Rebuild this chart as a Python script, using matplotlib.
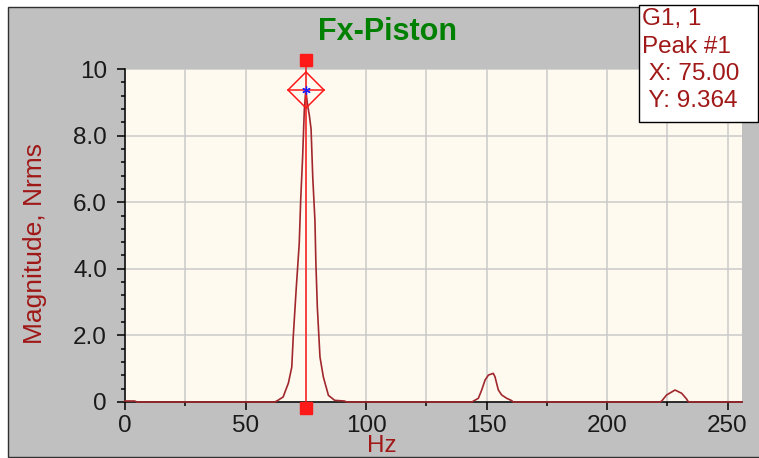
import matplotlib
matplotlib.use("Agg")
import matplotlib.pyplot as plt
from matplotlib.patches import Rectangle

# ---- data ----
freq_hz = [0, 4, 5, 62, 63, 65.6, 67.8, 69.2, 69.8, 71.0, 72.3, 72.9, 73.7, 74.4,
           75.0, 75.8, 76.5, 77.2, 77.9, 78.8, 79.2, 79.8, 80.9, 82.3, 84.4, 87.0,
           91.0, 92.0, 144.0, 144.6, 146.6, 148.0, 149.4, 150.8, 152.8, 153.5,
           154.9, 156.3, 158.4, 160.5, 161.0, 222.0, 222.7, 224.7, 228.2, 231.0,
           233.0, 233.5, 234.0, 256.0]
magnitude = [0.03, 0.03, 0.0, 0.0, 0.03, 0.15, 0.57, 1.05, 1.95, 3.36, 4.77, 6.07,
             7.36, 8.77, 9.364, 8.9, 8.6, 8.2, 6.75, 5.46, 4.17, 2.85, 1.35, 0.75,
             0.2, 0.05, 0.03, 0.0, 0.0, 0.03, 0.11, 0.36, 0.66, 0.81, 0.86, 0.76,
             0.36, 0.21, 0.11, 0.04, 0.0, 0.0, 0.03, 0.21, 0.36, 0.26, 0.09, 0.03,
             0.0, 0.0]
peak_x = 75.00
peak_y = 9.364
x_ticks = [0, 50, 100, 150, 200, 250]
x_minor = [25, 75, 125, 175, 225]
y_ticks = [0, 2, 4, 6, 8, 10]
y_ticklabels = ["0", "2.0", "4.0", "6.0", "8.0", "10"]
title = "Fx-Piston"
legend_lines = ["G1, 1", "Peak #1", " X: 75.00", " Y: 9.364"]

W, H = 759, 458
plt.rcParams['font.family'] = ['Liberation Sans', 'DejaVu Sans']
fig = plt.figure(figsize=(W / 100, H / 100), dpi=100, facecolor='white')

def fx(px):
    return px / W

def fy(py):
    return 1 - py / H

# gray panel
fig.add_artist(Rectangle((fx(8), fy(456.5)), fx(760 - 8), (456.5 - 7) / H,
                         transform=fig.transFigure, facecolor='#C0C0C0',
                         edgecolor='#303030', linewidth=1.0, zorder=0))

ax = fig.add_axes([fx(125), fy(402), fx(742 - 125), (402 - 69) / H])
ax.set_facecolor('#FFFAF0')
ax.set_xlim(0, 256)
ax.set_ylim(0, 10)
for s in ['top', 'right']:
    ax.spines[s].set_visible(False)
for s in ['left', 'bottom']:
    ax.spines[s].set_color('black')
    ax.spines[s].set_linewidth(1.1)

ax.set_xticks(x_ticks)
ax.set_xticks(x_minor, minor=True)
ax.set_yticks(y_ticks)
ax.set_yticklabels(y_ticklabels)
ax.set_yticks([v / 10 for v in range(0, 101, 4) if v % 20 != 0], minor=True)
ax.tick_params(axis='both', which='major', direction='out', length=6, width=1.1,
               labelsize=17.5, labelcolor='#1a1a1a', color='black')
ax.tick_params(axis='both', which='minor', direction='out', length=3, width=1.1,
               color='black')
ax.tick_params(axis='y', which='major', pad=7)
ax.tick_params(axis='x', which='major', pad=3)
ax.grid(True, which='major', color='#CACACA', linewidth=1.1)
ax.grid(True, axis='x', which='minor', color='#CACACA', linewidth=1.1)
ax.set_axisbelow(True)

# spectrum
ax.plot(freq_hz, magnitude, color='#A0282D', linewidth=1.2, zorder=3, clip_on=False)

# peak marker
red = '#FF1A1A'
ax.plot([peak_x, peak_x], [10.27, -0.18], color=red, linewidth=1.1, zorder=4, clip_on=False)
ax.plot([peak_x], [10.27], marker='s', ms=9.2, color=red, zorder=5, clip_on=False)
ax.plot([peak_x], [-0.18], marker='s', ms=9.2, color=red, zorder=5, clip_on=False)
ax.plot([peak_x], [peak_y], marker='D', ms=18.8, mfc='none', mec=red, mew=1.1,
        zorder=5, clip_on=False)
ax.plot([peak_x], [peak_y], marker='_', ms=27, mec=red, mew=1.1, zorder=5, clip_on=False)
ax.plot([peak_x], [peak_y], marker=(6, 2, 0), ms=6, mec='#2020FF', mew=0.9,
        zorder=6, clip_on=False)

# texts
fig.text(fx(388), fy(32), title, ha='center', va='center', fontsize=22,
         fontweight='bold', color='#008000')
fig.text(fx(35), fy(244), "Magnitude, Nrms", ha='center', va='center',
         rotation=90, fontsize=19, color='#A01818')
fig.text(fx(382), fy(452), "Hz", ha='center', va='baseline', fontsize=17.5,
         color='#A01818')

# legend box
fig.add_artist(Rectangle((fx(639), fy(122)), fx(758 - 639), (122 - 5) / H,
                         transform=fig.transFigure, facecolor='white',
                         edgecolor='black', linewidth=1.0, zorder=10))
baselines = [25.5, 53, 80, 107]
for line, b in zip(legend_lines, baselines):
    fig.text(fx(642), fy(b), line, ha='left', va='baseline', fontsize=17.5,
             color='#A01818', zorder=11)

fig.savefig('out.png', dpi=100, facecolor='white')
